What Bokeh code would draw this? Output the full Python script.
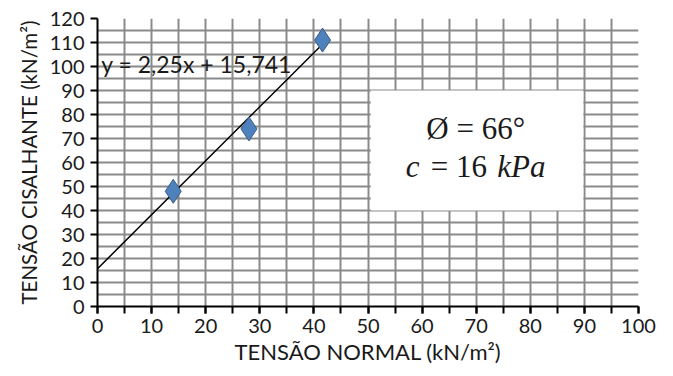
from bokeh.plotting import figure
from bokeh.models import FixedTicker, Range1d
from bokeh.core.properties import value
from bokeh.embed import file_html
from bokeh.resources import INLINE

# data
normal_stress = [14, 28, 41.6]
shear_stress = [48, 74, 111]
slope = 2.25
intercept = 15.741
line_x = [0, 42]
x_ticks = list(range(0, 101, 10))
y_ticks = list(range(0, 121, 10))
grid_x = list(range(0, 101, 5))
grid_y = list(range(0, 121, 5))
equation_label = "y = 2,25x + 15,741"
phi_label = "Ø = 66°"
x_title = "TENSÃO NORMAL (kN/m²)"
y_title = "TENSÃO CISALHANTE (kN/m²)"

p = figure(width=665, height=368, output_backend="svg", toolbar_location=None,
           x_range=Range1d(0, 100), y_range=Range1d(0, 120),
           min_border_left=97, min_border_right=27, min_border_top=18, min_border_bottom=62)
p.outline_line_color = None
p.background_fill_color = "white"

# grid
p.xgrid.ticker = FixedTicker(ticks=grid_x)
p.ygrid.ticker = FixedTicker(ticks=grid_y)
for g in (p.xgrid, p.ygrid):
    g.grid_line_color = "#8a8a8a"
    g.grid_line_width = 2

# white box covering grid
p.quad(left=[50.5], right=[89.8], bottom=[40], top=[90], fill_color="white", line_color=None)

# axes
p.xaxis.ticker = FixedTicker(ticks=x_ticks, minor_ticks=grid_x)
p.yaxis.ticker = FixedTicker(ticks=y_ticks)
for ax in (p.xaxis, p.yaxis):
    ax.axis_line_color = "black"
    ax.axis_line_width = 2
    ax.major_tick_line_color = "black"
    ax.major_tick_line_width = 2
    ax.major_tick_out = 7
    ax.major_tick_in = 0
    ax.major_label_text_font = "Lato"
    ax.major_label_text_font_size = "20px"
    ax.major_label_text_color = "#1a1a1a"
    ax.axis_label_text_font = "Lato"
    ax.axis_label_text_font_style = "normal"
    ax.axis_label_text_color = "#1a1a1a"
p.xaxis.axis_label_text_font_size = "22px"
p.yaxis.axis_label_text_font_size = "20.5px"
p.xaxis.minor_tick_line_color = "black"
p.xaxis.minor_tick_line_width = 2
p.xaxis.minor_tick_out = 7
p.xaxis.minor_tick_in = 0
p.yaxis.minor_tick_line_color = None
p.xaxis.major_label_standoff = 5
p.yaxis.major_label_standoff = 6
p.xaxis.axis_label = x_title
p.yaxis.axis_label = y_title
p.xaxis.axis_label_standoff = 2
p.yaxis.axis_label_standoff = 6

# trend line
line_y = [slope * x + intercept for x in line_x]
p.line(line_x, line_y, line_color="black", line_width=1.5)

# points
p.scatter(normal_stress, shear_stress, marker="diamond", size=24,
          fill_color="#4F81BD", line_color="#385D8A", line_width=1)

# equation
p.text(x=[0.7], y=[101], text=[equation_label], text_font=value("Lato"),
       text_font_size="23px", text_color="#1a1a1a", text_baseline="middle", text_align="left")

# parameters
p.text(x=[69.9], y=[74], text=[phi_label], text_font=value("Liberation Serif"),
       text_font_size="31px", text_color="#1a1a1a", text_baseline="middle", text_align="center")
p.text(x=[57.0], y=[58.5], text=["c"], text_font=value("Liberation Serif"), text_font_style="italic",
       text_font_size="31px", text_color="#1a1a1a", text_baseline="middle", text_align="left")
p.text(x=[61.6], y=[58.5], text=["= 16"], text_font=value("Liberation Serif"),
       text_font_size="31px", text_color="#1a1a1a", text_baseline="middle", text_align="left")
p.text(x=[73.9], y=[58.5], text=["kPa"], text_font=value("Liberation Serif"), text_font_style="italic",
       text_font_size="31px", text_color="#1a1a1a", text_baseline="middle", text_align="left")

open("out.html", "w").write(file_html(p, INLINE))
